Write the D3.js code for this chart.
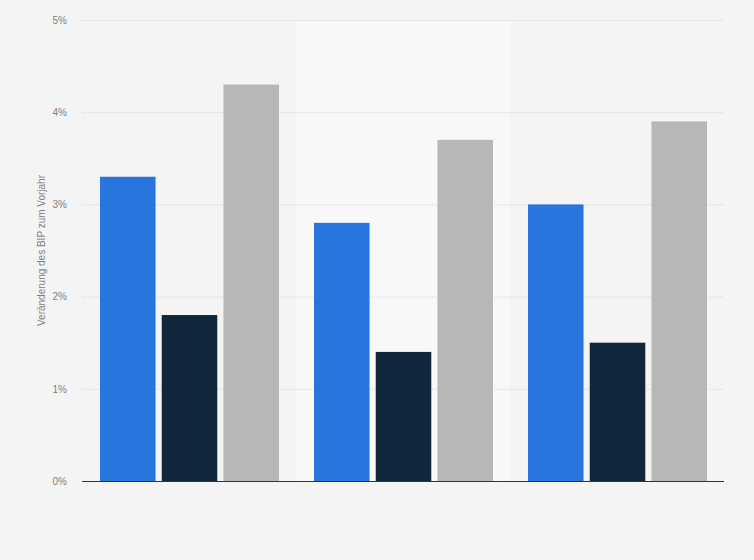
<!DOCTYPE html>
<html>
<head>
<meta charset="utf-8">
<script src="https://cdn.jsdelivr.net/npm/d3@7"></script>
<style>
  body { margin: 0; background: #f4f4f4; }
  svg { display: block; font-family: Arial, "Liberation Sans", sans-serif; }
</style>
</head>
<body>
<div id="chart"></div>
<script>
(function() {
  var margin = { top: 20, left: 82, right: 30, bottom: 79 },
    width = 754 - margin.left - margin.right,
    height = 560 - margin.top - margin.bottom;

  // groups (no labels shown in the picture) and the three series
  var groups = ["g1", "g2", "g3"];
  var series = ["s1", "s2", "s3"];
  var values1 = [3.3, 2.8, 3.0];
  var values2 = [1.8, 1.4, 1.5];
  var values3 = [4.3, 3.7, 3.9];
  var yTicks = [0, 1, 2, 3, 4, 5];
  var colors = ["#2876dd", "#10263b", "#b7b7b7"];

  var datapoints = groups.map(function(g, i) {
    return { group: g, vals: [values1[i], values2[i], values3[i]] };
  });

  var svg = d3.select("#chart")
    .append("svg")
    .attr("width", width + margin.left + margin.right)
    .attr("height", height + margin.top + margin.bottom)
    .append("g")
    .attr("transform", "translate(" + margin.left + "," + margin.top + ")");

  var xPositionScale = d3.scaleBand().domain(groups).range([0, width]).padding(0);
  var innerScale = d3.scaleBand().domain(series)
    .range([18, xPositionScale.bandwidth() - 17]).paddingInner(0.1);
  var yPositionScale = d3.scaleLinear().domain([0, 5]).range([height, 0]);

  // lighter band behind the middle group
  svg.append("rect")
    .attr("x", xPositionScale("g2"))
    .attr("y", 0)
    .attr("width", xPositionScale.bandwidth())
    .attr("height", height)
    .attr("fill", "#f8f8f8");

  // gridlines
  svg.selectAll(".grid")
    .data(yTicks.filter(function(d) { return d > 0; }))
    .enter().append("line")
    .attr("class", "grid")
    .attr("x1", 0)
    .attr("x2", width)
    .attr("y1", function(d) { return yPositionScale(d) + 0.5; })
    .attr("y2", function(d) { return yPositionScale(d) + 0.5; })
    .attr("stroke", "#d6d6d6")
    .attr("stroke-dasharray", "1,1");

  // bars
  var grp = svg.selectAll(".group")
    .data(datapoints)
    .enter().append("g")
    .attr("class", "group")
    .attr("transform", function(d) { return "translate(" + xPositionScale(d.group) + ",0)"; });

  grp.selectAll("rect")
    .data(function(d) { return d.vals.map(function(v, i) { return { s: series[i], v: v, c: colors[i] }; }); })
    .enter().append("rect")
    .attr("x", function(d) { return innerScale(d.s); })
    .attr("width", innerScale.bandwidth())
    .attr("y", function(d) { return yPositionScale(d.v); })
    .attr("height", function(d) { return height - yPositionScale(d.v); })
    .attr("fill", function(d) { return d.c; });

  // baseline
  svg.append("line")
    .attr("x1", 0)
    .attr("x2", width)
    .attr("y1", height + 0.5)
    .attr("y2", height + 0.5)
    .attr("stroke", "#333")
    .attr("stroke-width", 1);

  // y axis labels
  var yAxis = d3.axisLeft(yPositionScale)
    .tickValues(yTicks)
    .tickSize(0)
    .tickPadding(15)
    .tickFormat(function(d) { return d + "%"; });
  var ya = svg.append("g").attr("class", "axis y-axis").call(yAxis);
  ya.select(".domain").remove();
  ya.selectAll("text").attr("fill", "#808080").style("font-size", "10px");

  svg.append("text")
    .attr("transform", "translate(-37," + (height / 2) + ") rotate(-90)")
    .attr("text-anchor", "middle")
    .attr("fill", "#808080")
    .style("font-size", "10px")
    .text("Veränderung des BIP zum Vorjahr");
})();
</script>
</body>
</html>
